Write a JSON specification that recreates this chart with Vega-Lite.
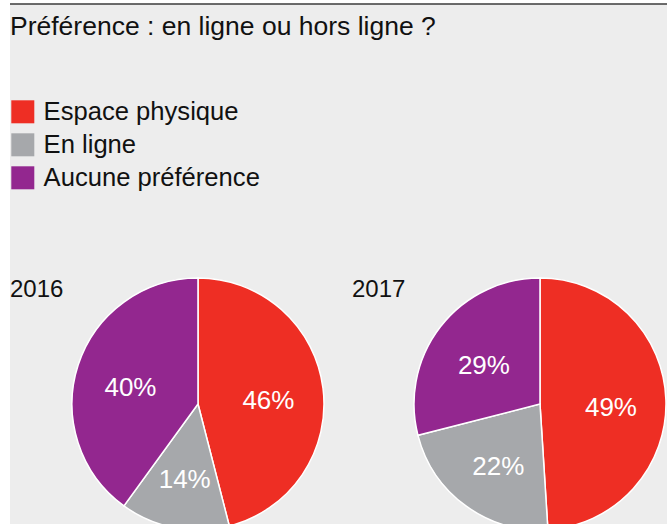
{
  "$schema": "https://vega.github.io/schema/vega-lite/v6.json",
  "width": 657,
  "height": 520,
  "autosize": {"type": "none"},
  "padding": {"left": 10, "top": 4, "right": 0, "bottom": 0},
  "background": "white",
  "title": {
    "text": "Préférence : en ligne ou hors ligne ?",
    "anchor": "start",
    "frame": "group",
    "orient": "bottom",
    "offset": -498,
    "baseline": "alphabetic",
    "fontSize": 26.5,
    "font": "Liberation Sans",
    "fontWeight": "normal",
    "color": "#111111"
  },
  "datasets": {
    "parts": [
      {"annee": "2016", "categorie": "Espace physique", "part": 0.46},
      {"annee": "2016", "categorie": "En ligne", "part": 0.14},
      {"annee": "2016", "categorie": "Aucune préférence", "part": 0.40},
      {"annee": "2017", "categorie": "Espace physique", "part": 0.49},
      {"annee": "2017", "categorie": "En ligne", "part": 0.22},
      {"annee": "2017", "categorie": "Aucune préférence", "part": 0.29}
    ],
    "annees": [
      {"annee": "2016"},
      {"annee": "2017"}
    ]
  },
  "encoding": {
    "x": {"field": "annee", "type": "nominal", "scale": {"type": "point", "padding": 0.4605, "align": 0.5968}, "axis": null},
    "y": {"datum": "camembert", "type": "nominal", "scale": {"type": "point", "padding": 0.5, "align": 0.7692}, "axis": null}
  },
  "layer": [
    {
      "data": {"name": "parts"},
      "transform": [{"filter": "datum.annee === '2016'"}],
      "mark": {"type": "arc", "outerRadius": 126, "stroke": "white", "strokeWidth": 1.5},
      "encoding": {
        "theta": {"field": "part", "type": "quantitative", "stack": true},
        "color": {
          "field": "categorie", "type": "nominal",
          "scale": {"domain": ["Espace physique", "En ligne", "Aucune préférence"], "range": ["#ee2e24", "#a6a8ab", "#93278f"]}
        },
        "order": {"field": "categorie", "sort": "descending"}
      }
    },
    {
      "data": {"name": "parts"},
      "transform": [{"filter": "datum.annee === '2017'"}],
      "mark": {"type": "arc", "outerRadius": 126, "stroke": "white", "strokeWidth": 1.5},
      "encoding": {
        "theta": {"field": "part", "type": "quantitative", "stack": true},
        "color": {
          "field": "categorie", "type": "nominal",
          "scale": {"domain": ["Espace physique", "En ligne", "Aucune préférence"], "range": ["#ee2e24", "#a6a8ab", "#93278f"]}
        },
        "order": {"field": "categorie", "sort": "descending"}
      }
    },
    {
      "data": {"name": "parts"},
      "transform": [{"filter": "datum.annee === '2016'"}],
      "mark": {"type": "text", "radius": 71, "dy": 6, "fill": "white", "fontSize": 26, "font": "Liberation Sans"},
      "encoding": {
        "theta": {"field": "part", "type": "quantitative", "stack": true},
        "detail": {"field": "categorie", "type": "nominal"},
        "order": {"field": "categorie", "sort": "descending"},
        "text": {"field": "part", "type": "quantitative", "format": ".0%"}
      }
    },
    {
      "data": {"name": "parts"},
      "transform": [{"filter": "datum.annee === '2017'"}],
      "mark": {"type": "text", "radius": 71, "dy": 6, "fill": "white", "fontSize": 26, "font": "Liberation Sans"},
      "encoding": {
        "theta": {"field": "part", "type": "quantitative", "stack": true},
        "detail": {"field": "categorie", "type": "nominal"},
        "order": {"field": "categorie", "sort": "descending"},
        "text": {"field": "part", "type": "quantitative", "format": ".0%"}
      }
    },
    {
      "data": {"name": "annees"},
      "mark": {"type": "text", "align": "left", "baseline": "alphabetic", "dx": -188, "dy": -107, "fontSize": 24, "font": "Liberation Sans", "fill": "#111111"},
      "encoding": {
        "text": {"field": "annee", "type": "nominal"}
      }
    }
  ],
  "config": {
    "font": "Liberation Sans",
    "view": {"fill": "#ededed", "stroke": "#3c3c3c", "strokeWidth": 1.5, "strokeDash": [657, 3000]},
    "legend": {
      "orient": "none",
      "legendX": 0,
      "legendY": 95,
      "title": null,
      "padding": 0,
      "symbolType": "square",
      "symbolSize": 529,
      "symbolStrokeWidth": 0,
      "symbolOpacity": 1,
      "labelFontSize": 25.6,
      "labelFont": "Liberation Sans",
      "labelColor": "#111111",
      "labelOffset": 8,
      "rowPadding": 6,
      "labelLimit": 400
    }
  }
}
